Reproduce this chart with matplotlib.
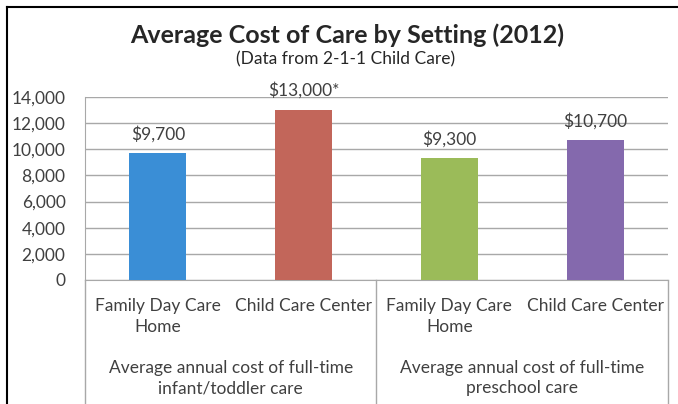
import matplotlib.pyplot as plt
from matplotlib.lines import Line2D

settings = ['Family Day Care\nHome', 'Child Care Center',
            'Family Day Care\nHome', 'Child Care Center']
costs = [9700, 13000, 9300, 10700]
notes = ['', '*', '', '']
groups = ['Average annual cost of full-time\ninfant/toddler care',
          'Average annual cost of full-time\npreschool care']
colors = ['#3a8ed6', '#c2665a', '#9bbb59', '#8469ad']

plt.rcParams['font.family'] = ['Lato', 'DejaVu Sans']
txt = '#404040'
fs = 12.5

fig = plt.figure(figsize=(6.78, 4.04), dpi=100)
ax = fig.add_axes([85/678, 1-280/404, (668-85)/678, (280-97)/404])

x = list(range(len(costs)))
ax.bar(x, costs, width=0.39, color=colors, zorder=3)
for xi, v, n in zip(x, costs, notes):
    ax.annotate(f'${v:,}{n}', (xi, v), xytext=(0, 14), textcoords='offset points',
                ha='center', va='center', fontsize=fs, color=txt)

ax.set_xlim(-0.5, 3.5)
ax.set_ylim(0, 14000)
ax.set_yticks(range(0, 14001, 2000))
ax.set_yticklabels([f'{t:,}' for t in range(0, 14001, 2000)])
ax.yaxis.grid(True, color='#a8a8a8', lw=1)
ax.set_axisbelow(True)
ax.tick_params(axis='y', length=0, pad=14, labelsize=fs, labelcolor=txt)
ax.set_xticks(x)
ax.set_xticklabels(settings, linespacing=1.35)
ax.tick_params(axis='x', length=0, pad=13, labelsize=fs, labelcolor=txt)
for s in ['top', 'right']:
    ax.spines[s].set_visible(False)
for s in ['left', 'bottom']:
    ax.spines[s].set_color('#a8a8a8')

# group labels and separators
for i, g in enumerate(groups):
    ax.text(2*i + 0.5, -98/183, g, transform=ax.get_xaxis_transform(),
            ha='center', va='center', fontsize=fs, color=txt, linespacing=1.35)
for xs in [-0.5, 1.5, 3.5]:
    ax.add_line(Line2D([xs, xs], [0, -124/183], transform=ax.get_xaxis_transform(),
                       color='#a8a8a8', lw=1, clip_on=False))

fig.text(347/678, 1-35/404, 'Average Cost of Care by Setting (2012)', ha='center', va='center',
         fontsize=18, fontweight='bold', color='#262626')
fig.text(346/678, 1-59/404, '(Data from 2-1-1 Child Care)', ha='center', va='center',
         fontsize=fs, color='#262626')

# outer frame (left and top edges)
fig.add_artist(Line2D([7/678, 7/678], [0, 1-7/404], color='black', lw=1.5))
fig.add_artist(Line2D([7/678, 1], [1-7/404, 1-7/404], color='black', lw=1.5))

fig.savefig('out.png', dpi=100)
